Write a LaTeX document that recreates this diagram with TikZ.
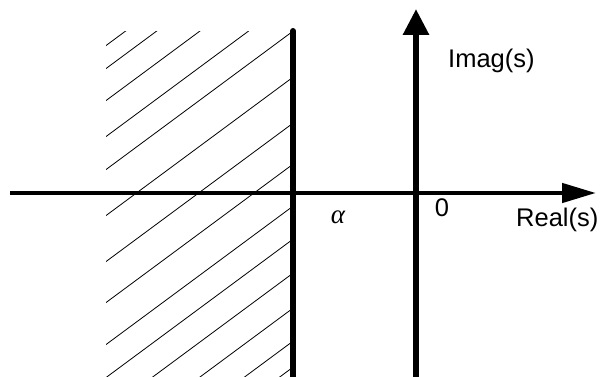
\documentclass[tikz,border=0pt]{standalone}
\usepackage{fontspec}
\setmainfont{Liberation Sans}
\newfontfamily\greekserif{Liberation Serif}
\usetikzlibrary{arrows.meta}
\tikzset{
  axisline/.style={line width=4.5pt},
  hatchline/.style={line width=0.8pt},
  lbl/.style={inner sep=0pt, font=\fontsize{25.5}{30}\selectfont},
}
\begin{document}
\begin{tikzpicture}[x=1pt,y=-1pt]
\useasboundingbox[fill=white] (0,0) rectangle (603,377);
% hatching
\begin{scope}
  \clip (106,32) rectangle (291,377);
  \foreach \c in {124,147,179,215,248,294,340,381,423,456,490,525,558,584}{
    \draw[hatchline] (100,{\c-74}) -- (295,{\c-218.3});
  }
\end{scope}
% coordinates
\coordinate (hl) at (10,193);
\coordinate (hr) at (596,193);
\coordinate (vb) at (416,377);
\coordinate (vt) at (416,9);
\coordinate (bt) at (293,31);
\coordinate (bb) at (293,377);
% boundary line
\draw[line width=6pt, line cap=round] (bb) -- (bt);
% axes
\draw[axisline, -{Triangle[length=34pt,width=19pt]}] (hl) -- (hr);
\draw[line width=6pt, -{Triangle[length=26pt,width=25pt]}] (vb) -- (vt);
% labels
\node[lbl, anchor=base west] (imag) at (448,68) {Imag(s)};
\node[lbl, anchor=base west] (real) at (516,226) {Real(s)};
\node[lbl, anchor=base] (zero) at (442,217) {0};
\node[lbl, anchor=base, font=\fontsize{27}{32}\selectfont\greekserif\itshape] (alpha) at (338,224) {α};
\end{tikzpicture}
\end{document}
